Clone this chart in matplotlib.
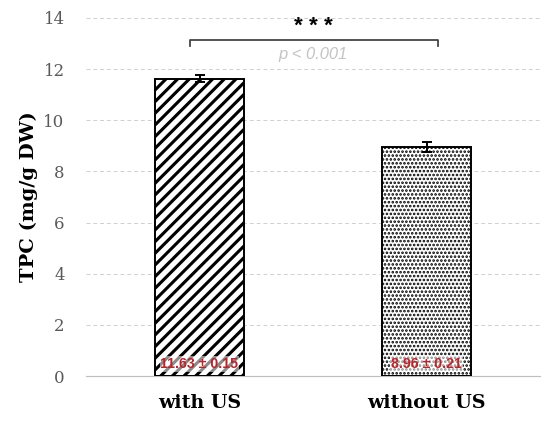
import matplotlib
matplotlib.use("Agg")
import matplotlib.pyplot as plt

# data
groups = ["with US", "without US"]
means = [11.63, 8.96]
errors = [0.15, 0.21]
hatches = ["//", "..."]
hatch_widths = [3.2, 1.8]
value_labels = ["11.63 \u00b1 0.15", "8.96 \u00b1 0.21"]
y_ticks = [0, 2, 4, 6, 8, 10, 12, 14]

# 70 dpi so the hatch cell gives stripe spacing close to the original
DPI = 70
SERIF = "DejaVu Serif"
plt.rcParams["hatch.color"] = "black"

fig = plt.figure(figsize=(550 / DPI, 429 / DPI), dpi=DPI)
ax = fig.add_axes([86 / 550, 53 / 429, 454 / 550, 358 / 429])

x = list(range(len(groups)))
for xi, m, e, h, hw in zip(x, means, errors, hatches, hatch_widths):
    with plt.rc_context({"hatch.linewidth": hw}):
        ax.bar(xi, m, width=0.39, color="white", edgecolor="black",
               linewidth=2.0, hatch=h, zorder=3)
    ax.errorbar(xi, m, yerr=e, fmt="none", ecolor="black",
                elinewidth=2.0, capsize=5, capthick=2.0, zorder=4)

for xi, lab in zip(x, value_labels):
    ax.text(xi, 0.48, lab, ha="center", va="center", fontsize=14.5,
            fontweight="bold", color="#B8262B", family="Liberation Sans",
            zorder=5,
            bbox=dict(facecolor="white", alpha=0.55, edgecolor="none",
                      pad=1.0))

# significance bracket
y_br = 13.15
ax.plot([-0.042, -0.042, 1.05, 1.05], [y_br - 0.25, y_br, y_br, y_br - 0.25],
        color="#404040", linewidth=1.8, zorder=5, clip_on=False)
ax.text(0.5, y_br + 0.1, "* * *", ha="center", va="bottom", fontsize=23,
        fontweight="bold", color="black", family="Liberation Sans")
ax.text(0.5, y_br - 0.3, "p < 0.001", ha="center", va="top", fontsize=17,
        style="italic", color="#C4C4C4", family="Liberation Sans")

ax.set_xlim(-0.5, 1.5)
ax.set_ylim(0, 14)
ax.set_yticks(y_ticks)
ax.set_xticks(x)
ax.set_xticklabels(groups, fontsize=19.5, fontweight="bold",
                   family=SERIF, color="black")
for t in ax.get_yticklabels():
    t.set_family(SERIF)
    t.set_fontsize(17)
    t.set_color("#595959")

ax.yaxis.grid(True, linestyle=(0, (4, 3)), color="#D0D0D0", linewidth=1.0,
              zorder=0)
ax.set_axisbelow(True)
for s in ["top", "right", "left"]:
    ax.spines[s].set_visible(False)
ax.spines["bottom"].set_color("#BFBFBF")
ax.spines["bottom"].set_linewidth(1.2)
ax.tick_params(axis="both", length=0)
ax.tick_params(axis="y", pad=22)
ax.tick_params(axis="x", pad=19)

ax.set_ylabel("TPC (mg/g DW)", fontsize=20, fontweight="bold",
              family=SERIF, labelpad=6)

fig.savefig("out.png", dpi=DPI, facecolor="white")
